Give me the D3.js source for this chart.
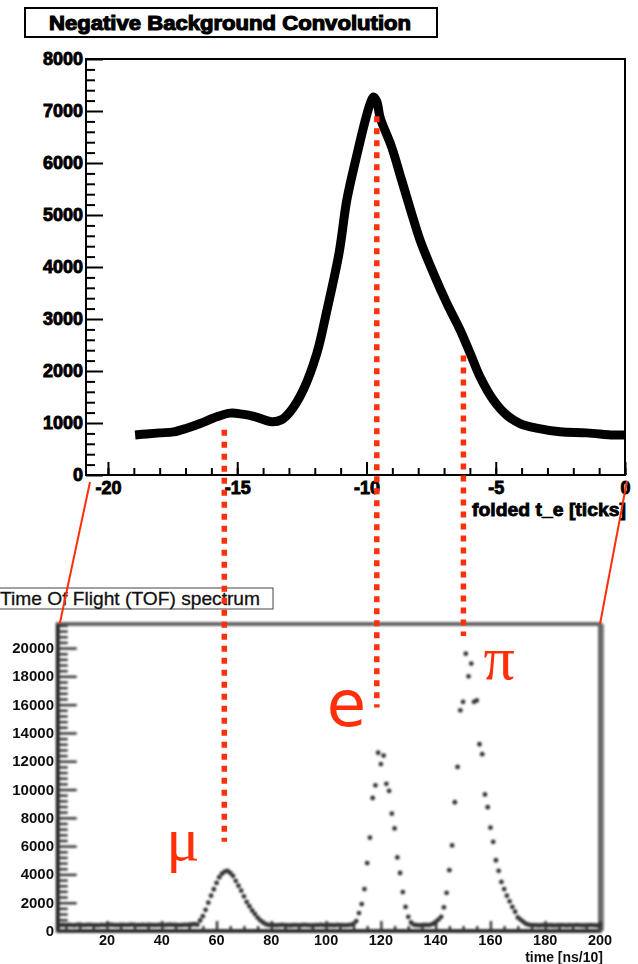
<!DOCTYPE html>
<html><head><meta charset="utf-8">
<script src="https://cdn.jsdelivr.net/npm/d3@7"></script>
<style>
html,body{margin:0;padding:0;background:#fff;}
svg{display:block;}
</style></head><body>
<script>
// ---- Upper panel: negative background convolution vs folded t_e ----
const foldedT = [-18.95, -18.5, -18.0, -17.46, -16.95, -16.43, -15.79, -15.27, -14.8, -14.3,
  -13.66, -13.3, -12.95, -12.45, -11.92, -11.53, -11.06, -10.76, -10.39, -10.02,
  -9.85, -9.73, -9.6, -9.47, -9.03, -8.64, -8.26, -7.93, -7.41, -6.89,
  -6.38, -5.99, -5.61, -5.09, -4.57, -4.06, -3.42, -2.51, -1.48, -0.45, 0];
const foldedCounts = [770, 790, 810, 830, 900, 990, 1120, 1190, 1170, 1120,
  1025, 1060, 1220, 1630, 2340, 3170, 4270, 5290, 6115, 6870,
  7150, 7270, 7180, 6870, 6310, 5670, 5040, 4520, 3880, 3300,
  2790, 2340, 1890, 1440, 1150, 990, 900, 830, 810, 770, 770];
const foldedMajorTicks = [-20, -15, -10, -5, 0];
const foldedMinorTicks = [-20,-19,-18,-17,-16,-15,-14,-13,-12,-11,-10,-9,-8,-7,-6,-5,-4,-3,-2,-1,0];
const convMajorTicks = [0, 1000, 2000, 3000, 4000, 5000, 6000, 7000, 8000];
const convMinorTicks = [200,400,600,800,1200,1400,1600,1800,2200,2400,2600,2800,3200,3400,3600,3800,
  4200,4400,4600,4800,5200,5400,5600,5800,6200,6400,6600,6800,7200,7400,7600,7800];

// ---- Lower panel: time of flight spectrum, one count per 1-unit bin from bin 3 ----
const tofFirstBin = 3;
const tofCounts = [
  // 3..52 flat background
  420,430,410,440,420,400,430,450,420,410, 430,440,420,410,400,430,420,440,450,430,
  420,410,430,440,420,430,450,440,420,410, 430,420,440,430,410,420,430,440,420,430,
  450,440,430,420,410,430,440,450,460,480,
  // 53..80 muon peak
  450,750,1050,1500,2000,2500,2950,3400,3800,4050,4200,4250,4100,3900,3550,3200,2850,2450,2050,1750,
  1450,1200,950,750,600,480,430,420,
  // 81..110
  410,400,420,430,410,400,390,410,420,400, 410,430,420,400,390,410,420,430,410,400,
  420,410,400,430,420,410,400,420,440,500,
  // 111..131 electron peak
  700,1270,1900,2960,4800,6600,9400,10300,12600,11800,12400,10400,9900,8300,7250,5200,4100,2750,1700,1000,600,
  // 132..139
  450,420,400,410,430,420,440,500,
  // 140..174 pion peak
  650,800,1000,1670,2700,4300,6050,9100,11600,15600,16200,19600,18000,18900,16200,16300,13200,12500,9650,8750,
  7300,6300,5000,4250,3470,2960,2500,2100,1700,1360,960,800,650,500,450,
  // 175..200
  420,410,400,390,410,420,400,410,390,400, 410,420,400,390,410,400,420,410,400,390,
  400,410,420,400,390,410];
const tofMajorX = [20, 40, 60, 80, 100, 120, 140, 160, 180, 200];
const tofMinorX = [5,10,15,25,30,35,45,50,55,65,70,75,85,90,95,105,110,115,125,130,135,145,150,155,165,170,175,185,190,195];
const tofMajorY = [0, 2000, 4000, 6000, 8000, 10000, 12000, 14000, 16000, 18000, 20000];
const tofMinorY = [400,800,1200,1600,2400,2800,3200,3600,4400,4800,5200,5600,6400,6800,7200,7600,
  8400,8800,9200,9600,10400,10800,11200,11600,12400,12800,13200,13600,14400,14800,15200,15600,
  16400,16800,17200,17600,18400,18800,19200,19600,20400,20800,21200,21600];

// ---- Peak identification markers ----
const peakNames = ["μ", "e", "π"];
const peakFolded = [-15.5, -9.6, -6.25];     // position on the folded t_e axis
const peakTopEnd = [870, 6900, 2300];         // upper end, in convolution counts
const peakTofEnd = [6300, 15800, 20850];      // lower end, in TOF counts

const W = 638, H = 964;
const RED = "#ff2f0a";
const svg = d3.select("body").append("svg").attr("width", W).attr("height", H)
  .style("font-family", "'Liberation Sans', Arial, sans-serif");

const defs = svg.append("defs");
defs.append("filter").attr("id", "soft").attr("x", "-5%").attr("y", "-5%").attr("width", "110%").attr("height", "110%")
  .append("feGaussianBlur").attr("stdDeviation", 0.8);
defs.append("filter").attr("id", "softText")
  .append("feGaussianBlur").attr("stdDeviation", 0.35);

// ===== Upper panel =====
const xTop = d3.scaleLinear().domain([-20.85, 0]).range([86, 625]);
const yTop = d3.scaleLinear().domain([0, 8000]).range([475, 59]);

// title box
const tb = svg.append("g");
tb.append("rect").attr("x", 25).attr("y", 8).attr("width", 412).attr("height", 29)
  .attr("fill", "#fff").attr("stroke", "#000").attr("stroke-width", 2);
tb.append("text").attr("x", 230).attr("y", 29.5).attr("text-anchor", "middle")
  .attr("font-size", 19.5).attr("font-weight", "bold").attr("stroke", "#000").attr("stroke-width", 1.1)
  .attr("textLength", 362).attr("lengthAdjust", "spacingAndGlyphs")
  .text("Negative Background Convolution");

const topPanel = svg.append("g");
topPanel.append("rect").attr("x", 86).attr("y", 59).attr("width", 539).attr("height", 416)
  .attr("fill", "none").attr("stroke", "#000").attr("stroke-width", 2);

function styleAxis(g, fs, color, sw) {
  g.select(".domain").remove();
  g.selectAll("line").attr("stroke", color).attr("stroke-width", sw);
  g.selectAll("text").attr("font-size", fs).attr("font-weight", "bold").attr("fill", color);
}

topPanel.append("g").attr("transform", "translate(86,0)")
  .call(d3.axisLeft(yTop).tickValues(convMinorTicks).tickSize(-9).tickFormat(""))
  .call(g => styleAxis(g, 18, "#000", 2));
topPanel.append("g").attr("transform", "translate(86,0)")
  .call(d3.axisLeft(yTop).tickValues(convMajorTicks).tickSize(-17).tickPadding(3).tickFormat(d => String(d)))
  .call(g => styleAxis(g, 18, "#000", 2))
  .call(g => g.selectAll("text").attr("stroke", "#000").attr("stroke-width", 0.9));
topPanel.append("g").attr("transform", "translate(0,475)")
  .call(d3.axisBottom(xTop).tickValues(foldedMinorTicks).tickSize(-7).tickFormat(""))
  .call(g => styleAxis(g, 18, "#000", 2));
topPanel.append("g").attr("transform", "translate(0,475)")
  .call(d3.axisBottom(xTop).tickValues(foldedMajorTicks).tickSize(-13).tickPadding(6).tickFormat(d => String(d)))
  .call(g => styleAxis(g, 18, "#000", 2))
  .call(g => g.selectAll("text").attr("stroke", "#000").attr("stroke-width", 0.9));
topPanel.append("text").attr("x", 626).attr("y", 516).attr("text-anchor", "end")
  .attr("font-size", 18).attr("font-weight", "bold").attr("stroke", "#000").attr("stroke-width", 0.8)
  .attr("textLength", 154).attr("lengthAdjust", "spacingAndGlyphs")
  .text("folded t_e [ticks]");

// data band
const topLine = d3.line().x((d, i) => xTop(foldedT[i])).y(d => yTop(d)).curve(d3.curveCatmullRom.alpha(0.5));
topPanel.append("path").attr("d", topLine(foldedCounts))
  .attr("fill", "none").attr("stroke", "#000").attr("stroke-width", 9)
  .attr("stroke-linejoin", "round").attr("stroke-linecap", "butt");

// ===== Lower panel =====
const xBot = d3.scaleLinear().domain([2, 200]).range([57.7, 600]);
const yBot = d3.scaleLinear().domain([0, 21700]).range([931, 624]);

// title box
const bt = svg.append("g");
bt.append("rect").attr("x", -2).attr("y", 588).attr("width", 275).attr("height", 21)
  .attr("fill", "#fff").attr("stroke", "#444").attr("stroke-width", 1);
bt.append("text").attr("x", 260).attr("y", 605).attr("text-anchor", "end")
  .attr("font-size", 18.5).attr("fill", "#111").attr("stroke", "#111").attr("stroke-width", 0.3)
  .attr("textLength", 260).attr("lengthAdjust", "spacingAndGlyphs")
  .text("Time Of Flight (TOF) spectrum");

const bot = svg.append("g");
const soft = bot.append("g").attr("filter", "url(#soft)");
soft.append("rect").attr("x", 57.7).attr("y", 624).attr("width", 542.3).attr("height", 307)
  .attr("fill", "none").attr("stroke", "#666").attr("stroke-width", 4);
soft.append("line").attr("x1", 603).attr("x2", 603).attr("y1", 624).attr("y2", 931)
  .attr("stroke", "#555").attr("stroke-width", 1.5);
soft.append("line").attr("x1", 57.7).attr("x2", 600).attr("y1", 931).attr("y2", 931)
  .attr("stroke", "#222").attr("stroke-width", 3);
soft.append("line").attr("x1", 57.7).attr("x2", 57.7).attr("y1", 624).attr("y2", 931)
  .attr("stroke", "#222").attr("stroke-width", 3.5);

soft.append("g").attr("transform", "translate(57.7,0)")
  .call(d3.axisLeft(yBot).tickValues(tofMinorY).tickSize(-10).tickFormat(""))
  .call(g => styleAxis(g, 14, "#333", 2.4));
soft.append("g").attr("transform", "translate(57.7,0)")
  .call(d3.axisLeft(yBot).tickValues(tofMajorY).tickSize(-19).tickFormat(""))
  .call(g => styleAxis(g, 14, "#333", 2.4));
soft.append("g").attr("transform", "translate(0,931)")
  .call(d3.axisBottom(xBot).tickValues(tofMinorX).tickSize(-5).tickFormat(""))
  .call(g => styleAxis(g, 14, "#333", 2.4));
soft.append("g").attr("transform", "translate(0,931)")
  .call(d3.axisBottom(xBot).tickValues(tofMajorX).tickSize(-10).tickFormat(""))
  .call(g => styleAxis(g, 14, "#333", 2.4));

// markers
soft.append("g").selectAll("circle").data(tofCounts).join("circle")
  .attr("cx", (d, i) => xBot(tofFirstBin + i)).attr("cy", d => yBot(d))
  .attr("r", 2.4).attr("fill", "#333");

// tick labels
const lab = bot.append("g").attr("fill", "#111").attr("font-weight", "bold").attr("filter", "url(#softText)");
lab.selectAll("text.y").data(tofMajorY).join("text").attr("class", "y")
  .attr("x", 54).attr("y", d => yBot(d) + 5).attr("text-anchor", "end")
  .attr("font-size", 15).text(d => String(d));
lab.selectAll("text.x").data(tofMajorX).join("text").attr("class", "x")
  .attr("x", d => xBot(d)).attr("y", 945).attr("text-anchor", "middle")
  .attr("font-size", 14.5).text(d => String(d));
lab.append("text").attr("x", 603).attr("y", 962).attr("text-anchor", "end")
  .attr("font-size", 14).text("time [ns/10]");

// ===== Connectors and peak markers =====
const ann = svg.append("g");
ann.append("line").attr("x1", xTop.range()[0] + 4).attr("y1", yTop(0) + 7)
  .attr("x2", xBot.range()[0] + 2).attr("y2", yBot.range()[1])
  .attr("stroke", RED).attr("stroke-width", 2);
ann.append("line").attr("x1", xTop.range()[1] + 2).attr("y1", yTop(0) + 6)
  .attr("x2", xBot.range()[1]).attr("y2", yBot.range()[1])
  .attr("stroke", RED).attr("stroke-width", 2);

ann.selectAll("line.peak").data(peakNames).join("line").attr("class", "peak")
  .attr("x1", (d, i) => xTop(peakFolded[i])).attr("x2", (d, i) => xTop(peakFolded[i]))
  .attr("y1", (d, i) => yTop(peakTopEnd[i])).attr("y2", (d, i) => yBot(peakTofEnd[i]))
  .attr("stroke", RED).attr("stroke-width", 5.5).attr("stroke-dasharray", "6 6");

// particle labels beside each marker's lower end
const labelDx = [-58, -50, 20];
const labelDy = [18, 19, 43];
const labelFont = ["'Liberation Serif', serif", "'DejaVu Sans', sans-serif", "'Liberation Serif', serif"];
const labelSize = [62, 64, 62];
ann.selectAll("text.peak").data(peakNames).join("text").attr("class", "peak")
  .attr("x", (d, i) => xTop(peakFolded[i]) + labelDx[i])
  .attr("y", (d, i) => yBot(peakTofEnd[i]) + labelDy[i])
  .attr("font-family", (d, i) => labelFont[i])
  .attr("font-size", (d, i) => labelSize[i])
  .attr("fill", RED).text(d => d);
</script>
</body></html>
